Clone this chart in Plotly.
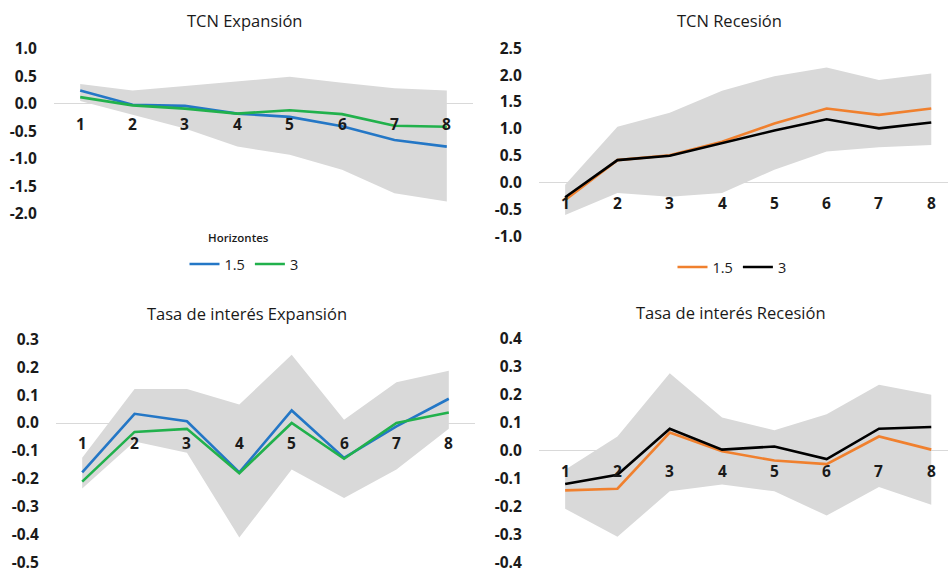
import plotly.graph_objects as go

# ---------------- data ----------------
horizons = [1, 2, 3, 4, 5, 6, 7, 8]
series_names = ["1.5", "3"]

# TCN Expansión
tcn_exp_15 = [0.24, -0.02, -0.04, -0.18, -0.24, -0.41, -0.66, -0.78]
tcn_exp_3 = [0.12, -0.03, -0.09, -0.18, -0.12, -0.19, -0.40, -0.42]
tcn_exp_hi = [0.36, 0.24, 0.32, 0.41, 0.49, 0.38, 0.28, 0.24]
tcn_exp_lo = [0.05, -0.20, -0.45, -0.78, -0.93, -1.20, -1.63, -1.78]

# TCN Recesión
tcn_rec_15 = [-0.32, 0.42, 0.51, 0.76, 1.10, 1.38, 1.26, 1.38]
tcn_rec_3 = [-0.27, 0.42, 0.50, 0.73, 0.97, 1.18, 1.01, 1.12]
tcn_rec_hi = [-0.04, 1.04, 1.30, 1.71, 1.98, 2.14, 1.91, 2.03]
tcn_rec_lo = [-0.60, -0.19, -0.26, -0.19, 0.24, 0.58, 0.66, 0.70]

# Tasa de interés Expansión
ti_exp_15 = [-0.177, 0.033, 0.006, -0.177, 0.045, -0.125, -0.012, 0.087]
ti_exp_3 = [-0.21, -0.032, -0.021, -0.18, 0.0, -0.128, 0.0, 0.038]
ti_exp_hi = [-0.125, 0.122, 0.122, 0.066, 0.245, 0.012, 0.146, 0.187]
ti_exp_lo = [-0.235, -0.066, -0.107, -0.41, -0.167, -0.269, -0.167, -0.021]

# Tasa de interés Recesión
ti_rec_15 = [-0.142, -0.136, 0.065, -0.002, -0.035, -0.048, 0.051, 0.004]
ti_rec_3 = [-0.119, -0.086, 0.079, 0.004, 0.015, -0.030, 0.079, 0.085]
ti_rec_hi = [-0.068, 0.051, 0.277, 0.119, 0.073, 0.131, 0.236, 0.200]
ti_rec_lo = [-0.208, -0.308, -0.145, -0.121, -0.145, -0.232, -0.130, -0.193]

# tick labels
tcn_exp_ticks = ["1.0", "0.5", "0.0", "-0.5", "-1.0", "-1.5", "-2.0"]
tcn_rec_ticks = ["2.5", "2.0", "1.5", "1.0", "0.5", "0.0", "-0.5", "-1.0"]
ti_exp_ticks = ["0.3", "0.2", "0.1", "0.0", "-0.1", "-0.2", "-0.3", "-0.4", "-0.5"]
ti_rec_ticks = ["0.4", "0.3", "0.2", "0.1", "0.0", "-0.1", "-0.2", "-0.3", "-0.4"]

titles = ["TCN Expansión", "TCN Recesión", "Tasa de interés Expansión", "Tasa de interés Recesión"]
legend_title = "Horizontes"

# ---------------- style ----------------
FONT = "Open Sans"
TXT = "#1a1a1a"
BAND = "#d9d9d9"
BLUE = "#2477c6"
GREEN = "#21b14c"
ORANGE = "#f0802e"
BLACK = "#000000"

W, H = 948, 573

panels = [
    dict(lines=(tcn_exp_15, tcn_exp_3), band=(tcn_exp_hi, tcn_exp_lo), colors=(BLUE, GREEN),
         ticks=tcn_exp_ticks, xdom=(54, 473), ydom=(48.7, 213.7), xr=(0.5, 8.5), legend="legend",
         title_xy=(244, 20)),
    dict(lines=(tcn_rec_15, tcn_rec_3), band=(tcn_rec_hi, tcn_rec_lo), colors=(ORANGE, BLACK),
         ticks=tcn_rec_ticks, xdom=(539, 948), ydom=(48.2, 236.5), xr=(0.5, 8.32), legend="legend2",
         title_xy=(729, 20)),
    dict(lines=(ti_exp_15, ti_exp_3), band=(ti_exp_hi, ti_exp_lo), colors=(BLUE, GREEN),
         ticks=ti_exp_ticks, xdom=(56, 475), ydom=(339.3, 562.5), xr=(0.5, 8.5), legend=None,
         title_xy=(247, 313)),
    dict(lines=(ti_rec_15, ti_rec_3), band=(ti_rec_hi, ti_rec_lo), colors=(ORANGE, BLACK),
         ticks=ti_rec_ticks, xdom=(539, 948), ydom=(339, 562.5), xr=(0.5, 8.32), legend=None,
         title_xy=(731, 312)),
]

fig = go.Figure()
annotations = []
layout = {}

TICKFONT = dict(family=FONT, size=15.5, color=TXT, weight=700)

for i, p in enumerate(panels, start=1):
    xa = "x" if i == 1 else f"x{i}"
    ya = "y" if i == 1 else f"y{i}"
    xkey = "xaxis" if i == 1 else f"xaxis{i}"
    ykey = "yaxis" if i == 1 else f"yaxis{i}"
    hi, lo = p["band"]
    fig.add_trace(go.Scatter(x=horizons, y=hi, xaxis=xa, yaxis=ya, mode="lines",
                             line=dict(width=0, color=BAND), showlegend=False, hoverinfo="skip"))
    fig.add_trace(go.Scatter(x=horizons, y=lo, xaxis=xa, yaxis=ya, mode="lines",
                             line=dict(width=0, color=BAND), fill="tonexty", fillcolor=BAND,
                             showlegend=False, hoverinfo="skip"))
    for vals, col, name in zip(p["lines"], p["colors"], series_names):
        fig.add_trace(go.Scatter(x=horizons, y=vals, xaxis=xa, yaxis=ya, mode="lines", name=name,
                                 line=dict(color=col, width=2.6),
                                 showlegend=p["legend"] is not None,
                                 legend=p["legend"] if p["legend"] else "legend"))
    tv = [float(t) for t in p["ticks"]]
    layout[xkey] = dict(domain=[p["xdom"][0] / W, p["xdom"][1] / W], range=list(p["xr"]),
                        showticklabels=False, showgrid=False, zeroline=False, showline=False,
                        anchor=ya, fixedrange=True, automargin=False)
    layout[ykey] = dict(domain=[1 - p["ydom"][1] / H, 1 - p["ydom"][0] / H],
                        range=[min(tv), max(tv)], tickvals=tv, ticktext=p["ticks"],
                        showgrid=False, zeroline=True, zerolinecolor=BAND, zerolinewidth=1.3,
                        showline=False, ticks="outside", ticklen=13, tickcolor="rgba(0,0,0,0)",
                        tickfont=TICKFONT, ticklabeloverflow="allow",
                        anchor=xa, fixedrange=True, automargin=False)
    for h in horizons:
        annotations.append(dict(x=h, y=0, xref=xa, yref=ya, text=str(h), showarrow=False,
                                yshift=-20, font=TICKFONT))
    tx, ty = p["title_xy"]
    annotations.append(dict(x=tx / W, y=1 - ty / H, xref="paper", yref="paper", text=titles[i - 1],
                            showarrow=False, xanchor="center", yanchor="middle",
                            font=dict(family=FONT, size=16.5, color=TXT, weight=500)))

# legend title of the first panel
annotations.append(dict(x=238 / W, y=1 - 237 / H, xref="paper", yref="paper", text=legend_title,
                        showarrow=False, xanchor="center", yanchor="middle",
                        font=dict(family=FONT, size=11.5, color=TXT, weight=600)))

fig.update_layout(
    **layout,
    template="none",
    width=W, height=H,
    margin=dict(l=0, r=0, t=0, b=0, autoexpand=False),
    paper_bgcolor="white", plot_bgcolor="white",
    annotations=annotations,
    legend=dict(orientation="h", x=244 / W, xanchor="center", y=1 - 264 / H, yanchor="middle",
                traceorder="normal",
                font=dict(family=FONT, size=14.5, color=TXT, weight=500), itemwidth=30,
                tracegroupgap=0, bgcolor="rgba(0,0,0,0)"),
    legend2=dict(orientation="h", x=732 / W, xanchor="center", y=1 - 267 / H, yanchor="middle",
                 traceorder="normal",
                 font=dict(family=FONT, size=14.5, color=TXT, weight=500), itemwidth=30,
                 bgcolor="rgba(0,0,0,0)"),
    showlegend=True,
)

fig.write_html("out.html", config={"displayModeBar": False},
               post_script="document.body.style.margin='0';")
